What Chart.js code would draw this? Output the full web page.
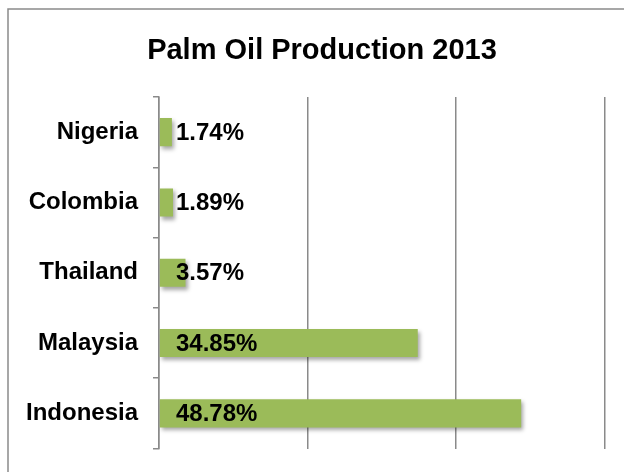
<!DOCTYPE html>
<html>
<head>
<meta charset="utf-8">
<script src="https://cdn.jsdelivr.net/npm/chart.js@4"></script>
<style>
  html, body { margin: 0; padding: 0; background: #fff; }
  canvas { display: block; }
</style>
</head>
<body>
<canvas id="chart" width="624" height="472"></canvas>
<script>
// production share by country, top to bottom
const countries = ['Nigeria', 'Colombia', 'Thailand', 'Malaysia', 'Indonesia'];
const shares = [1.74, 1.89, 3.57, 34.85, 48.78];
const axisTicks = [0, 20, 40, 60];
const chartTitle = 'Palm Oil Production 2013';

const FONT = '"Liberation Sans", Arial, sans-serif';
const GRAY = '#8a8a8a';

// frame around the whole chart (only left and top edges fall inside the page)
// plus the title, centred on the frame rather than the plot
const framePlugin = {
    id: 'frame',
    beforeDraw(chart) {
        const ctx = chart.ctx;
        ctx.save();
        ctx.strokeStyle = GRAY;
        ctx.lineWidth = 1.5;
        ctx.beginPath();
        ctx.moveTo(8, chart.height + 2);
        ctx.lineTo(8, 9);
        ctx.lineTo(chart.width + 2, 9);
        ctx.stroke();
        ctx.font = 'bold 29px ' + FONT;
        ctx.fillStyle = '#000';
        ctx.textAlign = 'center';
        ctx.textBaseline = 'alphabetic';
        ctx.fillText(chartTitle, 322, 59);
        ctx.restore();
    }
};

// soft drop shadow under the bars
const shadowPlugin = {
    id: 'barShadow',
    beforeDatasetsDraw(chart) {
        const ctx = chart.ctx;
        ctx.save();
        ctx.shadowColor = 'rgba(0,0,0,0.35)';
        ctx.shadowBlur = 4;
        ctx.shadowOffsetX = 2;
        ctx.shadowOffsetY = 3;
    },
    afterDatasetsDraw(chart) {
        chart.ctx.restore();
    }
};

// percentage labels near the base of each bar
const valueLabels = {
    id: 'valueLabels',
    afterDatasetsDraw(chart) {
        const ctx = chart.ctx;
        const x0 = chart.scales.x.getPixelForValue(0);
        const meta = chart.getDatasetMeta(0);
        ctx.save();
        ctx.font = 'bold 24px ' + FONT;
        ctx.fillStyle = '#000';
        ctx.textAlign = 'left';
        ctx.textBaseline = 'middle';
        meta.data.forEach((bar, i) => {
            ctx.fillText(shares[i].toFixed(2) + '%', x0 + 17, bar.y + 1);
        });
        ctx.restore();
    }
};

new Chart(document.getElementById('chart'), {
    type: 'bar',
    data: {
        labels: countries,
        datasets: [{
            data: shares,
            backgroundColor: '#9BBB59',
            borderWidth: 0,
            categoryPercentage: 0.4,
            barPercentage: 1
        }]
    },
    options: {
        indexAxis: 'y',
        responsive: false,
        animation: false,
        layout: { padding: { left: 8, top: 97, right: 19.5, bottom: 23.5 } },
        plugins: {
            legend: { display: false },
            tooltip: { enabled: false },
            title: { display: false }
        },
        scales: {
            x: {
                min: axisTicks[0],
                max: axisTicks[axisTicks.length - 1],
                afterBuildTicks(scale) {
                    scale.ticks = axisTicks.map(v => ({ value: v }));
                },
                afterFit(scale) { scale.height = 0; },
                ticks: { display: false },
                grid: { color: GRAY, lineWidth: 1.5, drawTicks: false },
                border: { display: false }
            },
            y: {
                afterFit(scale) {
                    // fixed label column; labels sit between the ticks, so no end padding
                    scale.width = 151;
                    scale.paddingTop = 0;
                    scale.paddingBottom = 0;
                },
                ticks: {
                    color: '#000',
                    padding: 15,
                    font: { family: FONT, size: 24, weight: 'bold' }
                },
                grid: {
                    drawOnChartArea: false,
                    drawTicks: true,
                    tickLength: 6,
                    color: GRAY,
                    lineWidth: 1.5
                },
                border: { display: true, color: GRAY, width: 1.5 }
            }
        }
    },
    plugins: [framePlugin, shadowPlugin, valueLabels]
});
</script>
</body>
</html>
